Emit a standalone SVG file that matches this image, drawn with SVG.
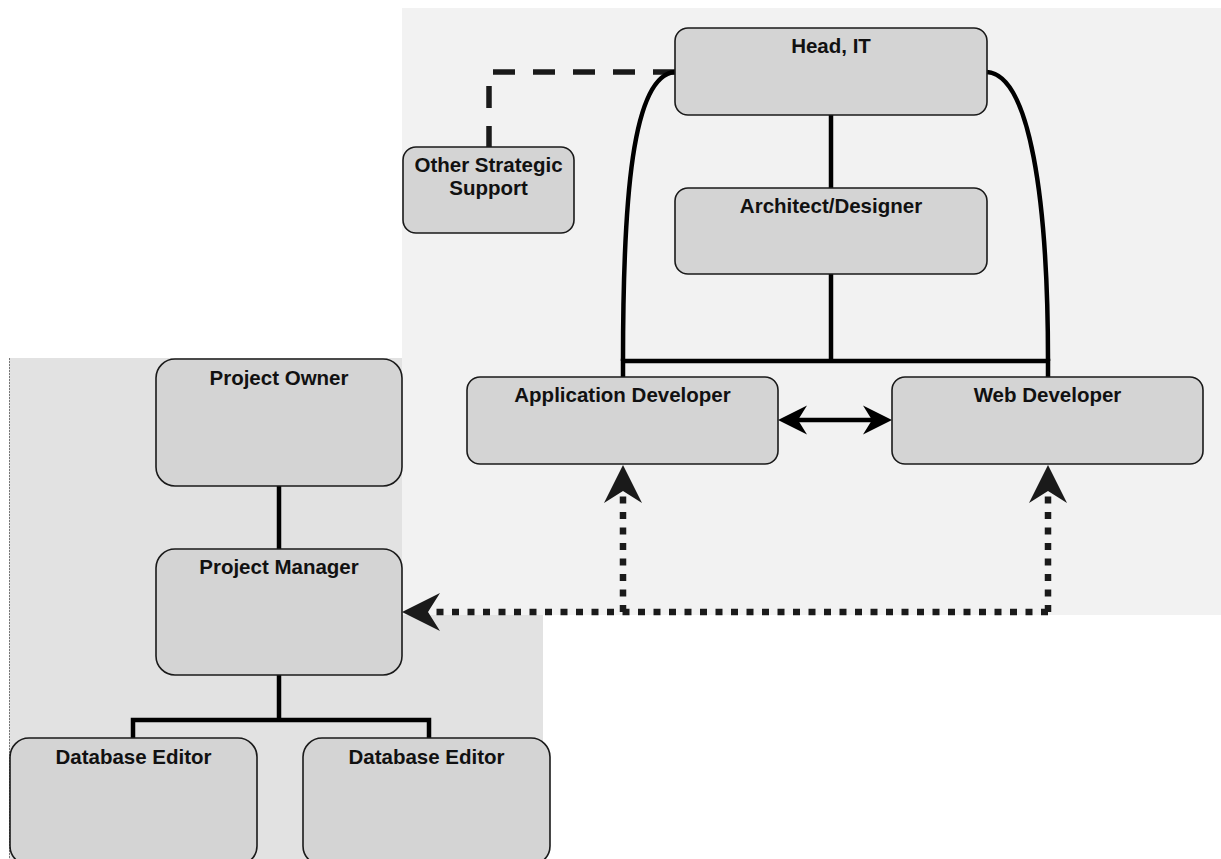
<svg xmlns="http://www.w3.org/2000/svg" width="1221" height="859" viewBox="0 0 1221 859">
<defs>
<style>
.node rect{fill:#d4d4d4;stroke:#1a1a1a;stroke-width:1.6}
.node text{font-family:"Liberation Sans",Arial,sans-serif;font-weight:bold;font-size:20.5px;fill:#111;text-anchor:middle}
.solid{fill:none;stroke:#000;stroke-width:4.5}
.dashed{fill:none;stroke:#1a1a1a;stroke-width:5.5;stroke-dasharray:22 18}
.dotted{fill:none;stroke:#1a1a1a;stroke-width:6.5;stroke-dasharray:7 8.5}
</style>
<marker id="big" markerUnits="userSpaceOnUse" markerWidth="42" markerHeight="42" viewBox="-40 -21 42 42" refX="-26" refY="0" orient="auto-start-reverse">
<path d="M0,0 L-38,-19 L-26,0 L-38,19 Z" fill="#1a1a1a"/>
</marker>
<marker id="small" markerUnits="userSpaceOnUse" markerWidth="34" markerHeight="34" viewBox="-32 -17 34 34" refX="-19" refY="0" orient="auto-start-reverse">
<path d="M0,0 L-29,-14.5 L-20,0 L-29,14.5 Z" fill="#000"/>
</marker>
</defs>
<rect width="1221" height="859" fill="#ffffff"/>
<g id="panel-project">
<rect x="9" y="358" width="534" height="501" fill="#e2e2e2"/>
<line x1="9.5" y1="358" x2="9.5" y2="859" stroke="#777" stroke-width="1" stroke-dasharray="2 1"/>
</g>
<g id="panel-it">
<rect x="402" y="8" width="819" height="607" fill="#f2f2f2"/>
</g>
<g id="connectors">
<path class="dashed" d="M675,72 L489,72 L489,147"/>
<path class="solid" d="M675,72 C632,75 623,200 623,361"/>
<path class="solid" d="M987,72 C1030,75 1048,200 1048,361"/>
<path class="solid" d="M831,115 L831,188"/>
<path class="solid" d="M831,274 L831,361"/>
<path class="solid" d="M623,377 L623,361 L1048,361 L1048,377"/>
<path class="solid" d="M797,420 L873,420" marker-start="url(#small)" marker-end="url(#small)"/>
<path class="dotted" d="M1048,612 L1048,491" marker-end="url(#big)"/>
<path class="dotted" d="M1048,612 L428,612" marker-end="url(#big)"/>
<path class="dotted" d="M623,612 L623,491" marker-end="url(#big)"/>
<path class="solid" d="M279,486 L279,549"/>
<path class="solid" d="M279,675 L279,720"/>
<path class="solid" d="M133,738 L133,720 L429,720 L429,738"/>
</g>
<g id="node-head-it" class="node">
<rect x="675" y="28" width="312" height="87" rx="13"/>
<text x="831" y="53">Head, IT</text>
</g>
<g id="node-architect" class="node">
<rect x="675" y="188" width="312" height="86" rx="13"/>
<text x="831" y="213">Architect/Designer</text>
</g>
<g id="node-other-strategic" class="node">
<rect x="403" y="147" width="171" height="86" rx="13"/>
<text x="488.5" y="172">Other Strategic</text>
<text x="488.5" y="195">Support</text>
</g>
<g id="node-app-dev" class="node">
<rect x="467" y="377" width="311" height="87" rx="13"/>
<text x="622.5" y="402">Application Developer</text>
</g>
<g id="node-web-dev" class="node">
<rect x="892" y="377" width="311" height="87" rx="13"/>
<text x="1047.5" y="402">Web Developer</text>
</g>
<g id="node-project-owner" class="node">
<rect x="156" y="359" width="246" height="127" rx="19"/>
<text x="279" y="385">Project Owner</text>
</g>
<g id="node-project-manager" class="node">
<rect x="156" y="549" width="246" height="126" rx="19"/>
<text x="279" y="574">Project Manager</text>
</g>
<g id="node-db-editor-1" class="node">
<rect x="10" y="738" width="247" height="127" rx="19"/>
<text x="133.5" y="764">Database Editor</text>
</g>
<g id="node-db-editor-2" class="node">
<rect x="303" y="738" width="247" height="127" rx="19"/>
<text x="426.5" y="764">Database Editor</text>
</g>
</svg>
